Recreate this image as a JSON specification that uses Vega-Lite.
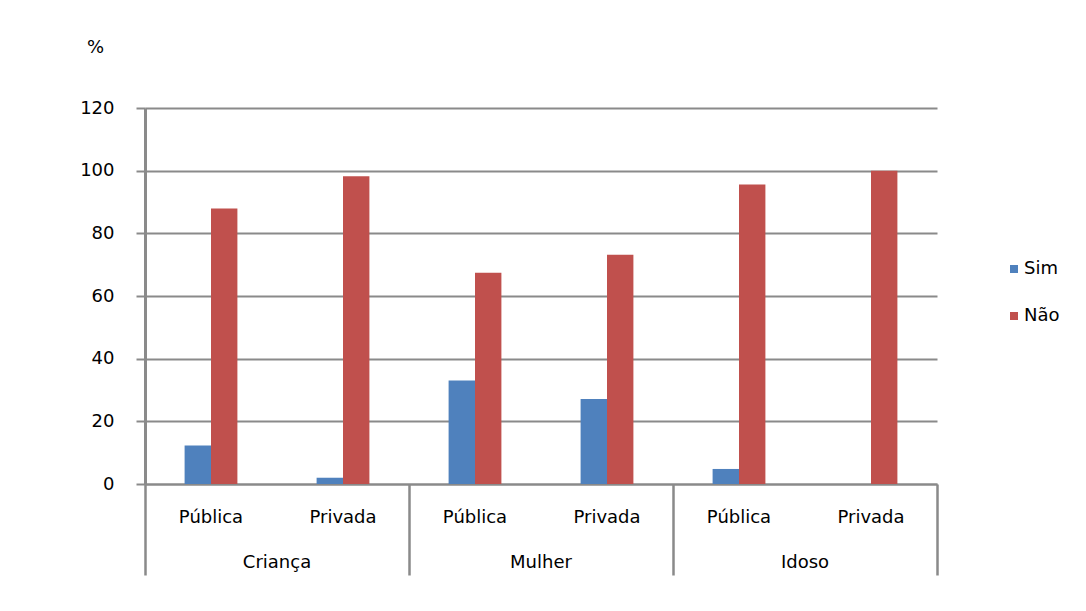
{
  "$schema": "https://vega.github.io/schema/vega-lite/v6.json",
  "width": 792,
  "height": 376,
  "autosize": {"type": "none"},
  "padding": {"left": 145, "top": 108, "right": 149, "bottom": 127},
  "background": "white",
  "config": {
    "font": "DejaVu Sans",
    "view": {"stroke": null},
    "axis": {"labelFont": "DejaVu Sans", "titleFont": "DejaVu Sans"},
    "legend": {"labelFont": "DejaVu Sans"}
  },
  "data": {
    "values": [
      {"group": "Criança", "type": "Pública", "cat": "Criança|Pública", "series": "Sim", "value": 12.3},
      {"group": "Criança", "type": "Pública", "cat": "Criança|Pública", "series": "Não", "value": 87.9},
      {"group": "Criança", "type": "Privada", "cat": "Criança|Privada", "series": "Sim", "value": 2.0},
      {"group": "Criança", "type": "Privada", "cat": "Criança|Privada", "series": "Não", "value": 98.2},
      {"group": "Mulher", "type": "Pública", "cat": "Mulher|Pública", "series": "Sim", "value": 33.0},
      {"group": "Mulher", "type": "Pública", "cat": "Mulher|Pública", "series": "Não", "value": 67.4},
      {"group": "Mulher", "type": "Privada", "cat": "Mulher|Privada", "series": "Sim", "value": 27.1},
      {"group": "Mulher", "type": "Privada", "cat": "Mulher|Privada", "series": "Não", "value": 73.2},
      {"group": "Idoso", "type": "Pública", "cat": "Idoso|Pública", "series": "Sim", "value": 4.8},
      {"group": "Idoso", "type": "Pública", "cat": "Idoso|Pública", "series": "Não", "value": 95.6},
      {"group": "Idoso", "type": "Privada", "cat": "Idoso|Privada", "series": "Sim", "value": 0},
      {"group": "Idoso", "type": "Privada", "cat": "Idoso|Privada", "series": "Não", "value": 100}
    ]
  },
  "layer": [
    {
      "mark": {"type": "bar", "opacity": 0},
      "encoding": {
        "x": {
          "field": "group",
          "type": "nominal",
          "sort": ["Criança", "Mulher", "Idoso"],
          "scale": {"paddingInner": 0, "paddingOuter": 0},
          "axis": {
            "orient": "bottom",
            "title": null,
            "labelAngle": 0,
            "labelFontSize": 18,
            "labelColor": "#000000",
            "labelBaseline": "alphabetic",
            "labelPadding": -8,
            "bandPosition": 1,
            "tickExtra": true,
            "tickSize": 91,
            "tickWidth": 2.5,
            "tickColor": "#8a8a8a",
            "domain": true,
            "domainColor": "#8a8a8a",
            "domainWidth": 2
          }
        },
        "y": {
          "field": "value",
          "type": "quantitative",
          "stack": null,
          "scale": {"domain": [0, 120]},
          "axis": {
            "values": [0, 20, 40, 60, 80, 100, 120],
            "title": "%",
            "titleAngle": 0,
            "titleFontSize": 18,
            "titleFontWeight": "normal",
            "titleColor": "#000000",
            "titleX": -50,
            "titleY": -61,
            "titleAlign": "center",
            "titleBaseline": "middle",
            "labelFontSize": 18,
            "labelColor": "#000000",
            "labelPadding": 22,
            "tickSize": 9,
            "tickWidth": 2,
            "tickColor": "#8a8a8a",
            "grid": true,
            "gridColor": "#8a8a8a",
            "gridWidth": 2,
            "domain": true,
            "domainColor": "#8a8a8a",
            "domainWidth": 3
          }
        }
      }
    },
    {
      "mark": {"type": "bar"},
      "encoding": {
        "x": {
          "field": "cat",
          "type": "nominal",
          "sort": ["Criança|Pública", "Criança|Privada", "Mulher|Pública", "Mulher|Privada", "Idoso|Pública", "Idoso|Privada"],
          "scale": {"paddingInner": 0, "paddingOuter": 0},
          "axis": {
            "orient": "bottom",
            "title": null,
            "labelAngle": 0,
            "labelFontSize": 18,
            "labelColor": "#000000",
            "labelBaseline": "alphabetic",
            "labelPadding": 38,
            "labelExpr": "split(datum.value, '|')[1]",
            "ticks": false,
            "domain": false
          }
        },
        "xOffset": {
          "field": "series",
          "type": "nominal",
          "scale": {"domain": ["_l", "Sim", "Não", "_r"], "paddingInner": 0, "paddingOuter": 0.5}
        },
        "y": {
          "field": "value",
          "type": "quantitative",
          "stack": null
        },
        "color": {
          "field": "series",
          "type": "nominal",
          "sort": ["Sim", "Não"],
          "scale": {"domain": ["Sim", "Não"], "range": ["#4F81BD", "#C0504D"]},
          "legend": {
            "title": null,
            "orient": "none",
            "legendX": 860,
            "legendY": 152,
            "symbolType": "square",
            "symbolSize": 64,
            "symbolStrokeWidth": 0,
            "labelFontSize": 18,
            "labelColor": "#000000",
            "labelOffset": 1,
            "rowPadding": 29
          }
        }
      }
    }
  ],
  "resolve": {"scale": {"x": "independent"}, "axis": {"x": "independent"}}
}
